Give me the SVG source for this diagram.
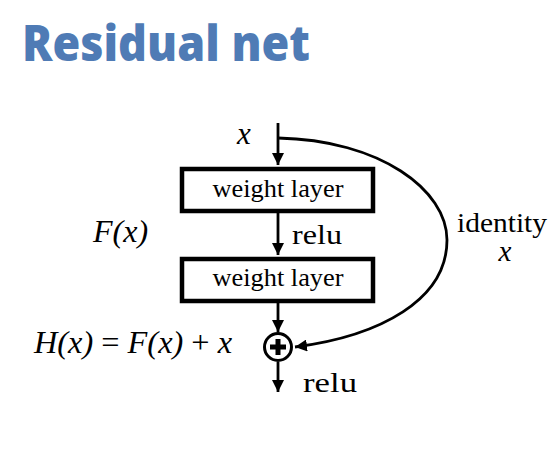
<svg xmlns="http://www.w3.org/2000/svg" width="560" height="464" viewBox="0 0 560 464">
<defs>
<style>
.t{font-family:"Liberation Serif","Times New Roman",serif;fill:#000}
.i{font-style:italic}
.ln{stroke:#000;stroke-width:2.8;fill:none}
.box{fill:#fff;stroke:#000;stroke-width:4.5}
</style>
<marker id="ah" viewBox="0 0 12 12" refX="12" refY="6" markerWidth="12" markerHeight="12" markerUnits="userSpaceOnUse" orient="auto">
<path d="M0,0 L12,6 L0,12 Z" fill="#000"/>
</marker>
</defs>
<rect width="560" height="464" fill="#fff"/>
<text x="22" y="61" font-family="'Open Sans',sans-serif" font-weight="800" font-size="49" fill="#4f7bb5" textLength="288" lengthAdjust="spacingAndGlyphs">Residual net</text>
<g id="connectors">
<line class="ln" x1="278" y1="123" x2="278" y2="165" marker-end="url(#ah)"/>
<line class="ln" x1="278" y1="213" x2="278" y2="255" marker-end="url(#ah)"/>
<line class="ln" x1="278" y1="303" x2="278" y2="332" marker-end="url(#ah)"/>
<line class="ln" x1="278" y1="362" x2="278" y2="392" marker-end="url(#ah)"/>
<path class="ln" d="M278,138 C380,140 447,190 447,240 C447,300 380,336 295,347" marker-end="url(#ah)"/>
</g>
<g id="input-x"><text class="t i" x="237" y="144" font-size="31">x</text></g>
<g id="weight-layer-1">
<rect class="box" x="182" y="169" width="191" height="42"/>
<text class="t" x="278" y="197" font-size="26" text-anchor="middle" textLength="131" lengthAdjust="spacingAndGlyphs">weight layer</text>
</g>
<g id="relu-1"><text class="t" x="292" y="244" font-size="28" textLength="50" lengthAdjust="spacingAndGlyphs">relu</text></g>
<g id="weight-layer-2">
<rect class="box" x="182" y="259" width="191" height="42"/>
<text class="t" x="278" y="286" font-size="26" text-anchor="middle" textLength="131" lengthAdjust="spacingAndGlyphs">weight layer</text>
</g>
<g id="Fx"><text class="t i" x="93" y="242" font-size="32">F(x)</text></g>
<g id="identity"><text class="t" x="457" y="232" font-size="28" textLength="90" lengthAdjust="spacingAndGlyphs">identity</text>
<text class="t i" x="505" y="261" font-size="29" text-anchor="middle">x</text></g>
<g id="sum">
<circle cx="278" cy="347" r="13.5" fill="#fff" stroke="#000" stroke-width="3"/>
<path d="M278,339 V355 M270,347 H286" stroke="#000" stroke-width="5"/>
</g>
<g id="Hx"><text class="t i" x="34" y="353" font-size="32" textLength="198" lengthAdjust="spacingAndGlyphs">H(x) <tspan font-style="normal">=</tspan> F(x) <tspan font-style="normal">+</tspan> x</text></g>
<g id="relu-2"><text class="t" x="303" y="392" font-size="28" textLength="54" lengthAdjust="spacingAndGlyphs">relu</text></g>
</svg>
